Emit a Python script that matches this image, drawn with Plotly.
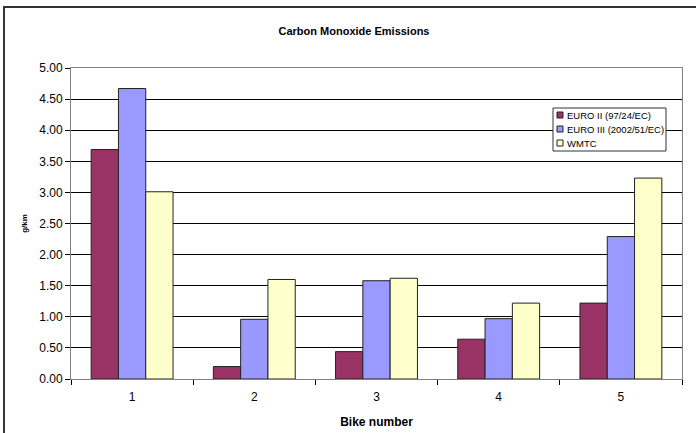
import plotly.graph_objects as go

bikes = ["1", "2", "3", "4", "5"]
euro2 = [3.69, 0.20, 0.44, 0.64, 1.22]
euro3 = [4.67, 0.96, 1.58, 0.97, 2.29]
wmtc = [3.01, 1.60, 1.62, 1.22, 3.23]

series = [
    ("EURO II (97/24/EC)", euro2, "#993366"),
    ("EURO III (2002/51/EC)", euro3, "#9999FF"),
    ("WMTC", wmtc, "#FFFFCC"),
]

W, H = 696, 433
L, R, T, B = 71, 14, 68, 54
pw, ph = W - L - R, H - T - B


def px_x(x):
    return (x - L) / pw


def px_y(y):
    return (H - B - y) / ph


fig = go.Figure()
for name, vals, color in series:
    fig.add_trace(go.Bar(
        x=bikes, y=vals, name=name, showlegend=False,
        marker=dict(color=color, line=dict(color="#222222", width=1)),
    ))

font = "Liberation Sans, Arial, sans-serif"

# outer chart-area frame (extends past the right and bottom edges)
fig.add_shape(type="rect", xref="paper", yref="paper",
              x0=px_x(4), x1=px_x(W + 10), y0=px_y(H + 10), y1=px_y(7),
              line=dict(color="#333333", width=2), layer="below")

# compact legend box with small colour swatches
lx0, lx1, ly0, ly1 = 553, 666, 108, 151
fig.add_shape(type="rect", xref="paper", yref="paper",
              x0=px_x(lx0), x1=px_x(lx1), y0=px_y(ly1), y1=px_y(ly0),
              line=dict(color="#333333", width=1), fillcolor="white", layer="above")
for i, (name, _, color) in enumerate(series):
    cy = 115 + 14 * i
    fig.add_shape(type="rect", xref="paper", yref="paper",
                  x0=px_x(557), x1=px_x(563), y0=px_y(cy + 3), y1=px_y(cy - 3),
                  line=dict(color="#222222", width=1), fillcolor=color, layer="above")
    fig.add_annotation(xref="paper", yref="paper", x=px_x(564.5), y=px_y(cy),
                       xanchor="left", yanchor="middle", showarrow=False,
                       text=name, font=dict(size=9.5, family=font, color="black"))

fig.update_layout(
    width=W, height=H,
    margin=dict(l=L, r=R, t=T, b=B),
    paper_bgcolor="white", plot_bgcolor="white",
    barmode="group", bargap=0.33, bargroupgap=0,
    showlegend=False,
    font=dict(family=font, color="black", size=12),
    title=dict(text="<b>Carbon Monoxide Emissions</b>", x=354 / W, xanchor="center",
               y=1 - 31 / H, yanchor="middle", font=dict(size=11)),
    xaxis=dict(
        automargin=False,
        showgrid=False, ticks="outside", ticklen=5, tickcolor="black",
        tickson="boundaries", showline=True, linecolor="#808080", mirror=True,
        title=dict(text="<b>Bike number</b>", font=dict(size=12), standoff=14),
        tickfont=dict(size=12), ticklabelstandoff=7,
    ),
    yaxis=dict(
        automargin=False,
        range=[0, 5], dtick=0.5, tickformat=".2f",
        showgrid=True, gridcolor="black", gridwidth=1,
        ticks="outside", ticklen=5, tickcolor="black",
        showline=True, linecolor="#808080", mirror=True,
        zeroline=False,
        title=dict(text="<b>g/km</b>", font=dict(size=8), standoff=10),
        tickfont=dict(size=12),
    ),
)

fig.write_html("out.html")
